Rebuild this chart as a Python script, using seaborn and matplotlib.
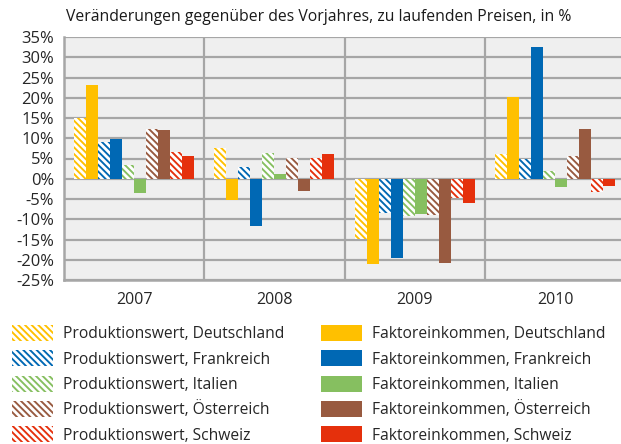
import matplotlib
matplotlib.use("Agg")
import matplotlib.pyplot as plt
from matplotlib.patches import Patch
import pandas as pd
import seaborn as sns

# --- DATEN ---
jahre = ["2007", "2008", "2009", "2010"]
laender = ["Deutschland", "Frankreich", "Italien", "Österreich", "Schweiz"]
farben = ["#FFC000", "#0068B4", "#86BF60", "#985A40", "#E5300C"]

# Produktionswert je Land (2007, 2008, 2009, 2010)
pw_deutschland = [15.0, 7.6, -14.9, 6.2]
pw_frankreich = [9.1, 3.0, -8.4, 5.0]
pw_italien = [3.5, 6.4, -9.2, 2.0]
pw_oesterreich = [12.4, 5.2, -9.0, 5.7]
pw_schweiz = [6.6, 5.2, -4.8, -3.3]

# Faktoreinkommen je Land (2007, 2008, 2009, 2010)
fe_deutschland = [23.2, -5.2, -21.0, 20.2]
fe_frankreich = [9.7, -11.6, -19.5, 32.6]
fe_italien = [-3.5, 1.1, -8.7, -2.0]
fe_oesterreich = [12.1, -3.0, -20.7, 12.4]
fe_schweiz = [5.5, 6.0, -6.0, -1.8]

pw_werte = [pw_deutschland, pw_frankreich, pw_italien, pw_oesterreich, pw_schweiz]
fe_werte = [fe_deutschland, fe_frankreich, fe_italien, fe_oesterreich, fe_schweiz]

# --- TABELLE AUFBAUEN ---
zeilen = []
reihen = []
palette = {}
for land, farbe, pw, fe in zip(laender, farben, pw_werte, fe_werte):
    for art, werte in (("Produktionswert", pw), ("Faktoreinkommen", fe)):
        name = f"{art}, {land}"
        reihen.append(name)
        palette[name] = farbe
        for jahr, wert in zip(jahre, werte):
            zeilen.append({"Jahr": jahr, "Reihe": name, "Wert": wert})
df = pd.DataFrame(zeilen)

# --- GRAFIK ---
DPI = 120
def pt(px):
    # Pixel in Punkte umrechnen
    return px * 72 / DPI

sns.set_style("white")
plt.rcParams["font.family"] = ["Open Sans", "DejaVu Sans"]
plt.rcParams["hatch.linewidth"] = pt(1.9)
schraffur = "\\" * 6  # ca. 6-7 px Abstand

fig = plt.figure(figsize=(621 / DPI, 444 / DPI), dpi=DPI)
ax = fig.add_axes([64 / 621, 1 - 280 / 444, 1 - 64 / 621, (280 - 37) / 444])
ax.set_facecolor("#EFEFEF")

sns.barplot(data=df, x="Jahr", y="Wert", hue="Reihe", hue_order=reihen,
            palette=palette, width=0.855, gap=0, saturation=1,
            errorbar=None, legend=False, ax=ax, zorder=3)

# Schraffur fuer Produktionswert
for i, cont in enumerate(ax.containers):
    farbe = palette[reihen[i]]
    for bar in cont:
        bar.set_linewidth(0)
        if i % 2 == 0:
            bar.set_facecolor("white")
            bar.set_edgecolor(farbe)
            bar.set_hatch(schraffur)

gitter = "#A6A6A6"
ax.set_ylim(-25, 35)
ax.set_yticks(range(-25, 36, 5))
ax.set_yticklabels([f"{v}%" for v in range(-25, 36, 5)], fontsize=pt(16.5))
ax.set_xlim(-0.5, 3.47)
ax.set_xticks(range(4))
ax.set_xticklabels(jahre, fontsize=pt(16))
ax.set_xticks([0.5, 1.5, 2.5], minor=True)
ax.tick_params(axis="x", which="both", length=0, pad=pt(12))
ax.tick_params(axis="y", length=pt(6), width=pt(2), color=gitter, pad=pt(4))
ax.grid(axis="y", color=gitter, linewidth=pt(2.2), zorder=0)
ax.grid(axis="x", which="minor", color=gitter, linewidth=pt(2.2), zorder=0)
ax.set_axisbelow(True)
ax.set_xlabel("")
ax.set_ylabel("")
for seite in ("top", "right"):
    ax.spines[seite].set_visible(False)
for seite in ("left", "bottom"):
    ax.spines[seite].set_color(gitter)
    ax.spines[seite].set_linewidth(pt(2.5))

fig.text(66 / 621, 1 - 17 / 444, "Veränderungen gegenüber des Vorjahres, zu laufenden Preisen, in %",
         fontsize=pt(15.8), va="center", ha="left", color="#1A1A1A")

# --- LEGENDE ---
griffe = []
for land, farbe in zip(laender, farben):
    griffe.append(Patch(facecolor="white", edgecolor=farbe, hatch=schraffur, linewidth=0,
                        label=f"Produktionswert, {land}"))
for land, farbe in zip(laender, farben):
    griffe.append(Patch(facecolor=farbe, edgecolor=farbe, linewidth=0,
                        label=f"Faktoreinkommen, {land}"))
fig.legend(handles=griffe, ncol=2, loc="upper left", bbox_to_anchor=(12 / 621, 1 - 325 / 444),
           frameon=False, fontsize=pt(15.6), handlelength=2.65, handleheight=1.2,
           handletextpad=0.65, columnspacing=2.3, labelspacing=0.52, borderaxespad=0,
           borderpad=0)

fig.savefig("out.png", dpi=DPI)
